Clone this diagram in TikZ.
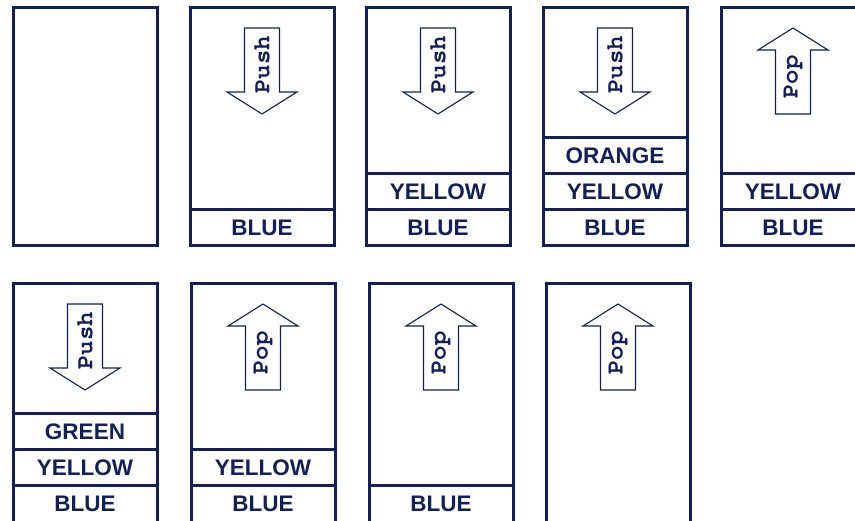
\documentclass[tikz,border=0pt]{standalone}
\usepackage{fontspec}
\usepackage{tikz}
\usetikzlibrary{positioning}

\newfontfamily\labelfont{Liberation Sans}
\newfontfamily\opfont{TeX Gyre Cursor}
\definecolor{navy}{RGB}{18,32,90}

\tikzset{
  stackbox/.style={draw=navy, line width=3pt, minimum width=144pt, minimum height=238pt, inner sep=0pt, outer sep=0pt},
  cell/.style={draw=navy, line width=3pt, minimum width=144pt, minimum height=36pt, inner sep=0pt, outer sep=0pt,
    text=navy, font=\labelfont\bfseries\fontsize{22.5}{22.5}\selectfont},
  flow/.style={draw=navy, line width=1.1pt, fill=white, line join=miter},
  optext/.style={text=navy, rotate=90, inner sep=0pt, font=\opfont\bfseries\fontsize{24}{24}\selectfont},
  pics/push/.style={code={
    \draw[flow] (-17.5,-43) -- (17.5,-43) -- (17.5,21) -- (35,21) -- (0,43) -- (-35,21) -- (-17.5,21) -- cycle;
    \node[optext] at (0,-6) {Push};
  }},
  pics/pop/.style={code={
    \draw[flow] (-17.5,43) -- (17.5,43) -- (17.5,-21) -- (35,-21) -- (0,-43) -- (-35,-21) -- (-17.5,-21) -- cycle;
    \node[optext] at (0,6) {Pop};
  }},
}

\begin{document}
\begin{tikzpicture}[x=1pt, y=-1pt]
  \useasboundingbox (0,0) rectangle (855,521);

  % The nine stack snapshots, two rows.
  \foreach \n/\x/\y in {1/85/127, 2/262/127, 3/438/127, 4/615/127, 5/793/127,
                        6/85/403, 7/263/403, 8/441/403, 9/618/403}{
    \node[stackbox] (s\n) at (\x,\y) {};
  }

  % Contents of each stack, bottom up.
  \node[cell, anchor=south] (s2blue) at (s2.south) {BLUE};

  \node[cell, anchor=south] (s3blue) at (s3.south) {BLUE};
  \node[cell, above=0pt of s3blue] (s3yellow) {YELLOW};

  \node[cell, anchor=south] (s4blue) at (s4.south) {BLUE};
  \node[cell, above=0pt of s4blue] (s4yellow) {YELLOW};
  \node[cell, above=0pt of s4yellow] (s4orange) {ORANGE};

  \node[cell, anchor=south] (s5blue) at (s5.south) {BLUE};
  \node[cell, above=0pt of s5blue] (s5yellow) {YELLOW};

  \node[cell, anchor=south] (s6blue) at (s6.south) {BLUE};
  \node[cell, above=0pt of s6blue] (s6yellow) {YELLOW};
  \node[cell, above=0pt of s6yellow] (s6green) {GREEN};

  \node[cell, anchor=south] (s7blue) at (s7.south) {BLUE};
  \node[cell, above=0pt of s7blue] (s7yellow) {YELLOW};

  \node[cell, anchor=south] (s8blue) at (s8.south) {BLUE};

  % Push / Pop arrows near the top of each box.
  \foreach \n in {2,3,4,6}{\pic at ([yshift=-63pt]s\n.north) {push};}
  \foreach \n in {5,7,8,9}{\pic at ([yshift=-63pt]s\n.north) {pop};}
\end{tikzpicture}
\end{document}
